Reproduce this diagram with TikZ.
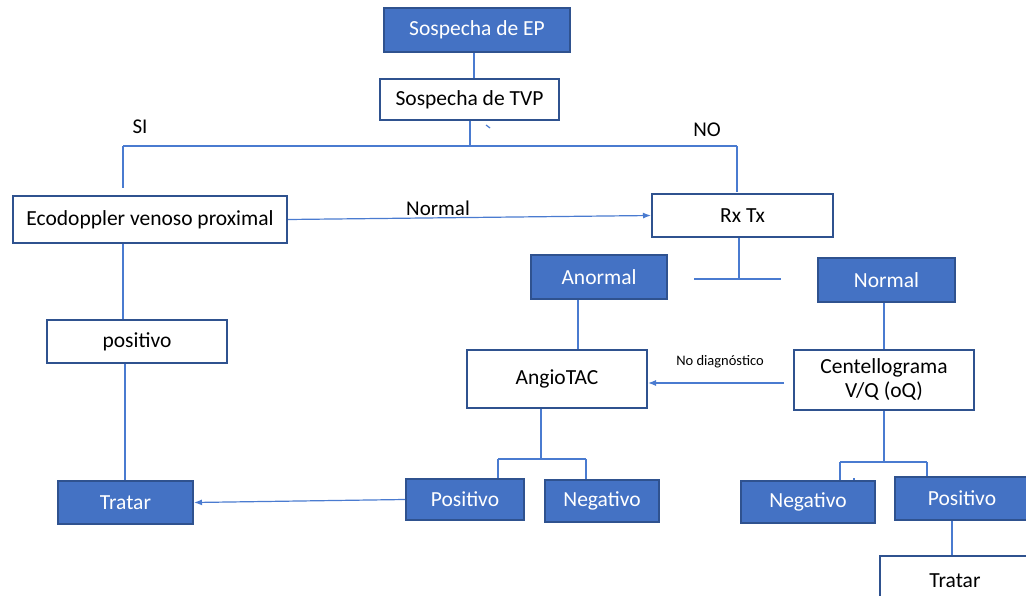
\documentclass[tikz,border=0pt]{standalone}
\usepackage{fontspec}
\setmainfont{Carlito}
\usetikzlibrary{arrows.meta}
\definecolor{bfill}{HTML}{4472C4}
\definecolor{bdraw}{HTML}{2F528F}
\definecolor{lcol}{HTML}{4A7BD0}
\tikzset{
  bluebox/.style={draw=bdraw, line width=2pt, fill=bfill, text=white, inner sep=0pt, font=\fontsize{21.5}{24}\selectfont},
  whitebox/.style={draw=bdraw, line width=2pt, fill=white, text=black, inner sep=0pt, font=\fontsize{21.5}{24}\selectfont, align=center},
  conn/.style={draw=lcol, line width=1.2pt},
  arr/.style={conn, -{Latex[length=8pt,width=6pt]}},
  lbl/.style={text=black, font=\fontsize{21}{23}\selectfont, inner sep=0pt},
  slbl/.style={text=black, font=\fontsize{14.5}{16}\selectfont, inner sep=0pt}
}
\begin{document}
\begin{tikzpicture}[x=1pt,y=-1pt]
\useasboundingbox (0,0) rectangle (1026,596);
\clip (0,0) rectangle (1026,596);
% nodes
\node[bluebox, minimum width=186pt, minimum height=44pt] (ep) at (477,30) {Sospecha de EP};
\node[whitebox, minimum width=179pt, minimum height=41pt] (tvp) at (469.5,99.5) {Sospecha de TVP};
\node[whitebox, minimum width=274pt, minimum height=47pt] (eco) at (150,219.5) {Ecodoppler venoso proximal};
\node[whitebox, minimum width=181pt, minimum height=43pt] (rx) at (742.5,215.5) {Rx Tx};
\node[bluebox, minimum width=136pt, minimum height=44pt] (anormal) at (599,277) {Anormal};
\node[bluebox, minimum width=137pt, minimum height=44pt] (normalR) at (886.5,280) {Normal};
\node[whitebox, minimum width=180pt, minimum height=58pt] (angio) at (557,379) {AngioTAC};
\node[whitebox, minimum width=180pt, minimum height=60pt] (cent) at (884,380) {Centellograma\\V/Q (oQ)};
\node[whitebox, minimum width=180pt, minimum height=43pt] (posL) at (137,341.5) {positivo};
\node[bluebox, minimum width=135pt, minimum height=43pt] (tratarL) at (125.5,502.5) {Tratar};
\node[bluebox, minimum width=118pt, minimum height=41pt] (posA) at (465,499.5) {Positivo};
\node[bluebox, minimum width=114pt, minimum height=42pt] (negA) at (602,501) {Negativo};
\node[bluebox, minimum width=134pt, minimum height=42pt] (negC) at (808,502) {Negativo};
\node[bluebox, minimum width=134pt, minimum height=43pt] (posC) at (962,498.5) {Positivo};
\node[whitebox, minimum width=150pt, minimum height=50pt] (tratarR) at (955,581) {Tratar};
% labels
\node[lbl] (si) at (140,127) {SI};
\node[lbl] (no) at (707,130) {NO};
\node[lbl] (nlab) at (438,208) {Normal};
\node[slbl] (nd) at (720,362) {No diagnóstico};
% coordinates
\coordinate (hl) at (123,146);
\coordinate (hm) at (470,146);
\coordinate (hr) at (737,146);
\coordinate (hlEnd) at (123,188);
\coordinate (hrEnd) at (737,192);
\coordinate (rxj) at (739,279);
\coordinate (rxl) at (694,279);
\coordinate (rxr) at (781,279);
\coordinate (cs) at (784,383);
\coordinate (aj) at (541,459);
\coordinate (ajl) at (498,459);
\coordinate (ajr) at (586,459);
\coordinate (cj) at (884,462);
\coordinate (cjl) at (840,462);
\coordinate (cjr) at (927,462);
% connectors
\draw[conn] (ep.south -| 474,0) -- (474,0 |- tvp.north);
\draw[conn] (tvp.south -| hm) -- (hm);
\draw[conn] (486,125) -- (490,128);
\draw[conn] (hl) -- (hr);
\draw[conn] (hl) -- (hlEnd);
\draw[conn] (hr) -- (hrEnd);
\draw[arr] (eco.east) -- (rx.west);
\draw[conn] (rx.south -| rxj) -- (rxj);
\draw[conn] (rxl) -- (rxr);
\draw[conn] (anormal.south -| 578,0) -- (578,0 |- angio.north);
\draw[conn] (normalR.south -| 884,0) -- (884,0 |- cent.north);
\draw[arr] (cs) -- (cs -| angio.east);
\draw[conn] (angio.south -| aj) -- (aj);
\draw[conn] (ajl) -- (ajr);
\draw[conn] (ajl) -- (ajl |- posA.north);
\draw[conn] (ajr) -- (ajr |- negA.north);
\draw[arr] (posA.west) -- (tratarL.east);
\draw[conn] (eco.south -| 123,0) -- (123,0 |- posL.north);
\draw[conn] (posL.south -| 125,0) -- (125,0 |- tratarL.north);
\draw[conn] (cent.south -| cj) -- (cj);
\draw[conn] (cjl) -- (cjr);
\draw[conn] (cjl) -- (cjl |- negC.north);
\draw[conn] (cjr) -- (cjr |- posC.north);
\draw[conn] (854,478) -- (854,0 |- negC.north);
\draw[conn] (posC.south -| 952,0) -- (952,0 |- tratarR.north);
\end{tikzpicture}
\end{document}
